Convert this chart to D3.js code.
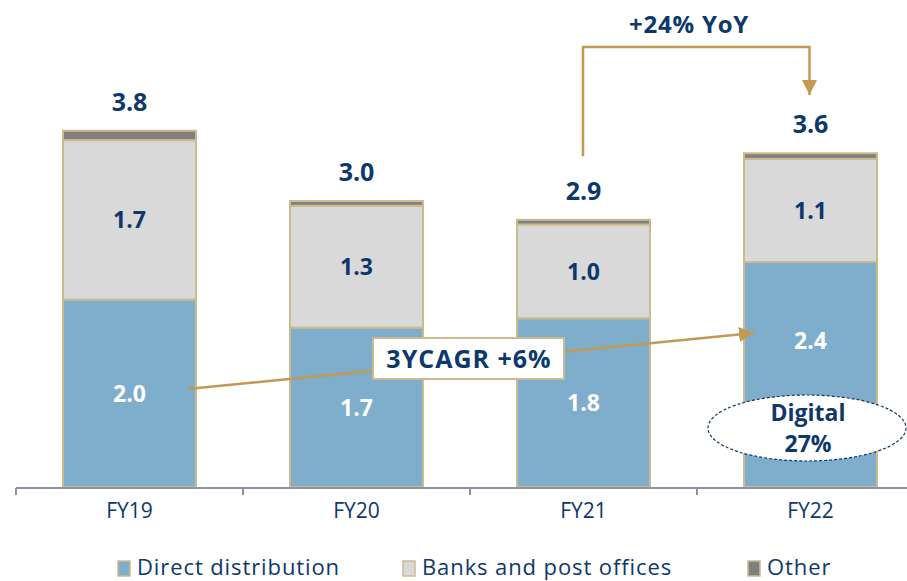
<!DOCTYPE html>
<html>
<head>
<meta charset="utf-8">
<script src="https://cdn.jsdelivr.net/npm/d3@7/dist/d3.min.js"></script>
<style>
  html, body { margin: 0; padding: 0; background: #fff; }
  svg { display: block; font-family: "Open Sans", "DejaVu Sans", sans-serif; }
</style>
</head>
<body>
<svg id="chart" width="907" height="581"></svg>
<script>
// Premium income by channel, FY19–FY22
const categories = ["FY19", "FY20", "FY21", "FY22"];
const direct = [2.0, 1.7, 1.8, 2.4];
const banks = [1.7, 1.3, 1.0, 1.1];
const other = [0.1, 0.05, 0.05, 0.06];
const totalLabels = ["3.8", "3.0", "2.9", "3.6"];
const seriesNames = ["Direct distribution", "Banks and post offices", "Other"];
const yoyText = "+24% YoY";
const cagrText = "3YCAGR +6%";
const digitalText = ["Digital", "27%"];

const NAVY = "#0d386b";
const GOLD = "#c29a55";
const EDGE = "#cbbb8c";
const colors = ["#7fadcc", "#d9d9d9", "#808080"];

const svg = d3.select("#chart");

const x = d3.scaleBand().domain(categories).range([16, 924]).paddingInner(0.414).paddingOuter(0.207);
const y = d3.scaleLinear().domain([0, 4]).range([487, 112]);

const rows = categories.map((c, i) => ({ cat: c, direct: direct[i], banks: banks[i], other: other[i] }));
const keys = ["direct", "banks", "other"];
const stacked = d3.stack().keys(keys)(rows);

// Stacked bars
const layers = svg.append("g").selectAll("g").data(stacked).join("g")
  .attr("fill", (d, i) => colors[i]);
layers.selectAll("rect").data(d => d).join("rect")
  .attr("x", d => x(d.data.cat))
  .attr("width", x.bandwidth())
  .attr("y", d => y(d[1]))
  .attr("height", d => y(d[0]) - y(d[1]))
  .attr("stroke", EDGE)
  .attr("stroke-width", 2);

// Category axis with boundary ticks
const axisG = svg.append("g");
axisG.append("line")
  .attr("x1", 16).attr("x2", 907).attr("y1", 488).attr("y2", 488)
  .attr("stroke", "#8d93a6").attr("stroke-width", 2);
const step = x.step();
const boundaries = categories.map(c => x(c) - (step - x.bandwidth()) / 2);
axisG.selectAll("line.tick").data(boundaries).join("line")
  .attr("class", "tick")
  .attr("x1", d => d).attr("x2", d => d)
  .attr("y1", 488).attr("y2", 495)
  .attr("stroke", "#8d93a6").attr("stroke-width", 2);
axisG.selectAll("text").data(categories).join("text")
  .attr("x", d => x(d) + x.bandwidth() / 2)
  .attr("y", 518)
  .attr("text-anchor", "middle")
  .attr("fill", NAVY)
  .attr("font-size", 21)
  .text(d => d);

// Segment value labels
const cx = c => x(c) + x.bandwidth() / 2;
rows.forEach((r, i) => {
  const dy = i === 3 ? -34 : 0;
  svg.append("text")
    .attr("x", cx(r.cat))
    .attr("y", y(r.direct / 2) + dy)
    .attr("dy", "0.36em")
    .attr("text-anchor", "middle")
    .attr("fill", "#fff").attr("font-weight", 700).attr("font-size", 23)
    .text(r.direct.toFixed(1));
  svg.append("text")
    .attr("x", cx(r.cat))
    .attr("y", y(r.direct + r.banks / 2))
    .attr("dy", "0.36em")
    .attr("text-anchor", "middle")
    .attr("fill", NAVY).attr("font-weight", 700).attr("font-size", 23)
    .text(r.banks.toFixed(1));
  svg.append("text")
    .attr("x", cx(r.cat))
    .attr("y", y(r.direct + r.banks + r.other) - 20)
    .attr("text-anchor", "middle")
    .attr("fill", NAVY).attr("font-weight", 700).attr("font-size", 25)
    .text(totalLabels[i]);
});

// Arrow markers
const defs = svg.append("defs");
defs.append("marker")
  .attr("id", "arrowhead")
  .attr("viewBox", "0 0 10 10")
  .attr("refX", 10).attr("refY", 5)
  .attr("markerWidth", 6).attr("markerHeight", 6)
  .attr("markerUnits", "strokeWidth")
  .attr("orient", "auto")
  .append("path").attr("d", "M0,0 L10,5 L0,10 Z").attr("fill", GOLD);

// YoY bracket FY21 -> FY22
const x21 = cx("FY21") - 0.5, x22 = cx("FY22") - 1;
svg.append("path")
  .attr("d", `M${x21},${y(2.9) - 59} V47 H${x22} V95`)
  .attr("fill", "none").attr("stroke", GOLD).attr("stroke-width", 2.5)
  .attr("marker-end", "url(#arrowhead)");
svg.append("text")
  .attr("x", 689).attr("y", 33)
  .attr("text-anchor", "middle")
  .attr("fill", NAVY).attr("font-weight", 700).attr("font-size", 24)
  .attr("letter-spacing", 0.8)
  .text(yoyText);

// CAGR arrow FY19 -> FY22
svg.append("line")
  .attr("x1", cx("FY19") + 58).attr("y1", 389)
  .attr("x2", x("FY22") + 10).attr("y2", 333)
  .attr("stroke", GOLD).attr("stroke-width", 2.5)
  .attr("marker-end", "url(#arrowhead)");
const cagrG = svg.append("g");
cagrG.append("rect")
  .attr("x", 373).attr("y", 338).attr("width", 191).attr("height", 41)
  .attr("fill", "#fff").attr("stroke", EDGE).attr("stroke-width", 2);
cagrG.append("text")
  .attr("x", 469).attr("y", 358.5).attr("dy", "0.36em")
  .attr("text-anchor", "middle")
  .attr("fill", NAVY).attr("font-weight", 700).attr("font-size", 25)
  .attr("letter-spacing", 1)
  .text(cagrText);

// Digital share callout
const ell = svg.append("g");
ell.append("ellipse")
  .attr("cx", 807).attr("cy", 428).attr("rx", 99).attr("ry", 33)
  .attr("fill", "#fff").attr("stroke", NAVY).attr("stroke-width", 1.2)
  .attr("stroke-dasharray", "3,2");
ell.selectAll("text").data(digitalText).join("text")
  .attr("x", 808).attr("y", (d, i) => 413 + i * 31).attr("dy", "0.36em")
  .attr("text-anchor", "middle")
  .attr("fill", NAVY).attr("font-weight", 700).attr("font-size", 23)
  .text(d => d);

// Legend
const legendX = [118, 403, 748];
const legend = svg.append("g").selectAll("g").data(seriesNames).join("g")
  .attr("transform", (d, i) => `translate(${legendX[i]},561)`);
legend.append("rect")
  .attr("width", 12).attr("height", 15)
  .attr("fill", (d, i) => colors[i])
  .attr("stroke", EDGE).attr("stroke-width", 1.5);
legend.append("text")
  .attr("x", 19).attr("y", 14)
  .attr("fill", NAVY).attr("font-size", 22)
  .attr("letter-spacing", 0.9)
  .text(d => d);
</script>
</body>
</html>
